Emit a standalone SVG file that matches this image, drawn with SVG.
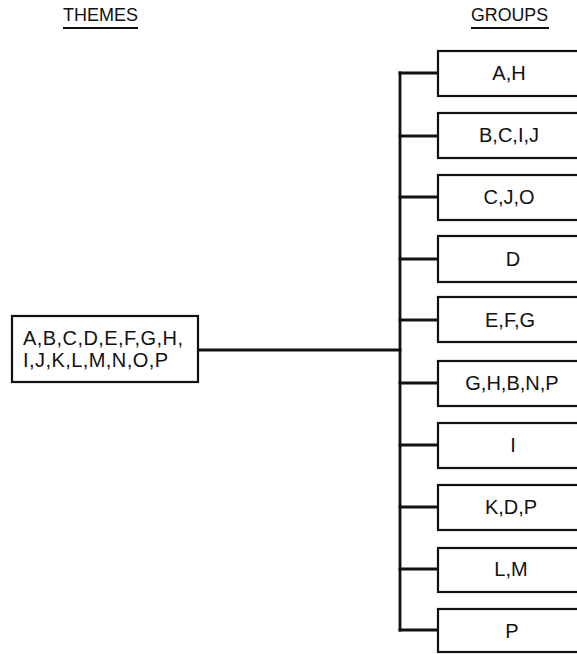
<svg xmlns="http://www.w3.org/2000/svg" width="577" height="654" viewBox="0 0 577 654">
  <style>
    .bg { fill: #ffffff; }
    .box { fill: #ffffff; stroke: #111111; stroke-width: 2.2; }
    .wire { fill: none; stroke: #111111; stroke-width: 2.8; stroke-linecap: square; }
    .rule { stroke: #111111; stroke-width: 1.8; }
    text { font-family: "Liberation Sans", Arial, sans-serif; font-size: 20px; fill: #111111; }
    .head { font-size: 18px; }
    .mid { text-anchor: middle; }
  </style>
  <rect class="bg" x="0" y="0" width="577" height="654"/>

  <!-- column headings -->
  <g id="heading-themes">
    <text class="head" x="63" y="21" textLength="75" lengthAdjust="spacingAndGlyphs">THEMES</text>
    <line class="rule" x1="63" y1="28" x2="138" y2="28"/>
  </g>
  <g id="heading-groups">
    <text class="head" x="471" y="21" textLength="77" lengthAdjust="spacingAndGlyphs">GROUPS</text>
    <line class="rule" x1="471" y1="28" x2="549" y2="28"/>
  </g>

  <!-- connectors: trunk, feed line and stubs -->
  <g id="connectors">
    <line class="wire" x1="198" y1="350" x2="400" y2="350"/>
    <line class="wire" x1="400" y1="73" x2="400" y2="630"/>
    <line class="wire" x1="400" y1="73" x2="438" y2="73"/>
    <line class="wire" x1="400" y1="136" x2="438" y2="136"/>
    <line class="wire" x1="400" y1="197" x2="438" y2="197"/>
    <line class="wire" x1="400" y1="259" x2="438" y2="259"/>
    <line class="wire" x1="400" y1="320" x2="438" y2="320"/>
    <line class="wire" x1="400" y1="383" x2="438" y2="383"/>
    <line class="wire" x1="400" y1="445" x2="438" y2="445"/>
    <line class="wire" x1="400" y1="507" x2="438" y2="507"/>
    <line class="wire" x1="400" y1="569" x2="438" y2="569"/>
    <line class="wire" x1="400" y1="630" x2="438" y2="630"/>
  </g>

  <!-- source node -->
  <g id="themes">
    <rect class="box" x="12" y="316" width="186" height="66"/>
    <text x="23" y="345" textLength="160" lengthAdjust="spacing">A,B,C,D,E,F,G,H,</text>
    <text x="23" y="367" textLength="145" lengthAdjust="spacing">I,J,K,L,M,N,O,P</text>
  </g>

  <!-- group nodes -->
  <g id="group-ah">
    <rect class="box" x="438" y="51" width="150" height="45"/>
    <text class="mid" x="509" y="80">A,H</text>
  </g>
  <g id="group-bcij">
    <rect class="box" x="438" y="113" width="150" height="45"/>
    <text class="mid" x="509" y="142">B,C,I,J</text>
  </g>
  <g id="group-cjo">
    <rect class="box" x="438" y="175" width="150" height="45"/>
    <text class="mid" x="509" y="204">C,J,O</text>
  </g>
  <g id="group-d">
    <rect class="box" x="438" y="236" width="150" height="46"/>
    <text class="mid" x="513" y="266">D</text>
  </g>
  <g id="group-efg">
    <rect class="box" x="438" y="297" width="150" height="45"/>
    <text class="mid" x="510" y="327">E,F,G</text>
  </g>
  <g id="group-ghbnp">
    <rect class="box" x="438" y="361" width="150" height="45"/>
    <text class="mid" x="512" y="390">G,H,B,N,P</text>
  </g>
  <g id="group-i">
    <rect class="box" x="438" y="423" width="150" height="45"/>
    <text class="mid" x="513" y="452">I</text>
  </g>
  <g id="group-kdp">
    <rect class="box" x="438" y="485" width="150" height="45"/>
    <text class="mid" x="511" y="514">K,D,P</text>
  </g>
  <g id="group-lm">
    <rect class="box" x="438" y="548" width="150" height="44"/>
    <text class="mid" x="511" y="576">L,M</text>
  </g>
  <g id="group-p">
    <rect class="box" x="438" y="609" width="150" height="43"/>
    <text class="mid" x="512" y="638">P</text>
  </g>
</svg>
